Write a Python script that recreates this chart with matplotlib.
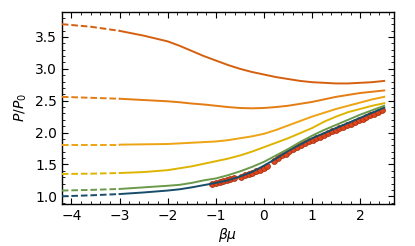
import matplotlib
matplotlib.use("Agg")
import matplotlib.pyplot as plt
from matplotlib.ticker import MultipleLocator

# dashed (extrapolated) part
x_dash = [-4.2, -3.6, -3.0]
# solid part
x_solid = [-3.0, -2.5, -2.0, -1.75, -1.5, -1.25, -1.0, -0.75, -0.5, -0.25, 0.0,
           0.25, 0.5, 0.75, 1.0, 1.25, 1.5, 1.75, 2.0, 2.25, 2.5]

c1_dash = [1.00, 1.015, 1.035]
c1 = [1.035, 1.06, 1.09, 1.11, 1.14, 1.175, 1.21, 1.25, 1.31, 1.38, 1.48,
      1.59, 1.71, 1.81, 1.91, 1.99, 2.07, 2.15, 2.23, 2.31, 2.39]
c2_dash = [1.09, 1.10, 1.115]
c2 = [1.115, 1.14, 1.165, 1.18, 1.21, 1.25, 1.28, 1.33, 1.39, 1.46, 1.54,
      1.64, 1.74, 1.85, 1.95, 2.04, 2.12, 2.20, 2.28, 2.35, 2.42]
c3_dash = [1.35, 1.355, 1.365]
c3 = [1.365, 1.38, 1.41, 1.44, 1.47, 1.51, 1.55, 1.59, 1.64, 1.70, 1.77,
      1.84, 1.91, 1.99, 2.07, 2.17, 2.25, 2.32, 2.37, 2.42, 2.46]
c4_dash = [1.81, 1.81, 1.81]
c4 = [1.81, 1.815, 1.82, 1.83, 1.84, 1.85, 1.86, 1.88, 1.91, 1.94, 1.98,
      2.04, 2.11, 2.18, 2.25, 2.31, 2.37, 2.42, 2.47, 2.52, 2.56]
c5_dash = [2.56, 2.545, 2.53]
c5 = [2.53, 2.51, 2.49, 2.475, 2.455, 2.44, 2.42, 2.40, 2.385, 2.38, 2.385,
      2.40, 2.42, 2.45, 2.48, 2.52, 2.56, 2.59, 2.62, 2.64, 2.66]
c6_dash = [3.70, 3.66, 3.595]
c6 = [3.595, 3.52, 3.43, 3.36, 3.28, 3.20, 3.13, 3.06, 3.00, 2.95, 2.91,
      2.87, 2.84, 2.81, 2.79, 2.78, 2.77, 2.77, 2.78, 2.79, 2.81]

dots_x = [-1.07, -0.995, -0.92, -0.845, -0.77, -0.695, -0.62,
          -0.48, -0.40, -0.32, -0.24, -0.16, -0.08, 0.0, 0.07,
          0.21, 0.29, 0.37, 0.45, 0.53, 0.61, 0.69, 0.77, 0.85, 0.93, 1.01,
          1.09, 1.17, 1.25, 1.33, 1.41, 1.49, 1.57, 1.65, 1.73, 1.81, 1.89,
          1.97, 2.05, 2.13, 2.21, 2.29, 2.37, 2.45]
dots_y = [1.20, 1.21, 1.22, 1.235, 1.25, 1.265, 1.28,
          1.31, 1.33, 1.35, 1.37, 1.40, 1.42, 1.45, 1.48,
          1.56, 1.60, 1.64, 1.67, 1.71, 1.74, 1.77, 1.80, 1.83, 1.86, 1.88,
          1.91, 1.93, 1.96, 1.99, 2.02, 2.04, 2.07, 2.09, 2.12, 2.14, 2.17,
          2.19, 2.22, 2.24, 2.27, 2.29, 2.32, 2.35]

colors = ["#174d6b", "#6b9a4b", "#dfb400", "#eea312", "#e37c12", "#d4600f"]
dashes = [c1_dash, c2_dash, c3_dash, c4_dash, c5_dash, c6_dash]
solids = [c1, c2, c3, c4, c5, c6]

fig = plt.figure(figsize=(4.15, 2.46), dpi=100)
ax = fig.add_axes([0.149, 0.171, 0.8, 0.78])

ax.plot(dots_x, dots_y, 'o', ms=4.2, mfc="#e0451c", mec="#a8300f", mew=0.6,
        zorder=2, linestyle='none')
for col, yd, ys in zip(colors, dashes, solids):
    ax.plot(x_dash, yd, '--', color=col, lw=1.4, dashes=(3.4, 1.5), zorder=3)
    ax.plot(x_solid, ys, '-', color=col, lw=1.4, zorder=3)

ax.set_xlim(-4.2, 2.7)
ax.set_ylim(0.88, 3.89)
ax.xaxis.set_major_locator(MultipleLocator(1))
ax.xaxis.set_minor_locator(MultipleLocator(0.2))
ax.yaxis.set_major_locator(MultipleLocator(0.5))
ax.yaxis.set_minor_locator(MultipleLocator(0.1))
ax.tick_params(which='both', direction='in', top=True, right=True, labelsize=10)
ax.tick_params(which='major', length=4, width=0.8)
ax.tick_params(which='minor', length=2, width=0.6)
for s in ax.spines.values():
    s.set_linewidth(1.0)
ax.set_xlabel(r"$\beta\mu$", fontsize=10, labelpad=2)
ax.set_ylabel(r"$P/P_0$", fontsize=10, labelpad=4)

fig.savefig("out.png", dpi=100)
